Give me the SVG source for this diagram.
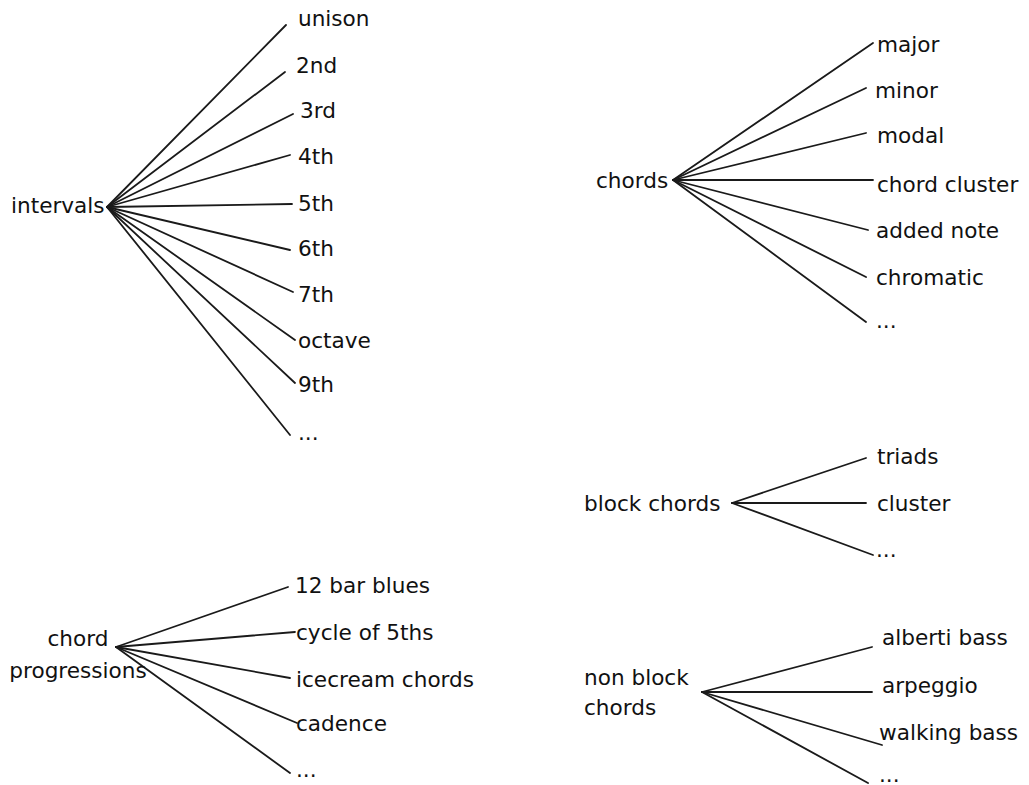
<svg xmlns="http://www.w3.org/2000/svg" width="1029" height="785" viewBox="0 0 1029 785">
<style>
text{font-family:"DejaVu Sans",Verdana,sans-serif;font-size:21.6px;fill:#111}
.c line{stroke:#1a1a1a;stroke-width:1.8;stroke-linecap:round}
.m{text-anchor:middle}
</style>
<rect width="1029" height="785" fill="#fff"/>
<g class="c" id="connectors">
<line x1="107" y1="207" x2="286" y2="25"/>
<line x1="107" y1="207" x2="285" y2="72"/>
<line x1="107" y1="207" x2="293" y2="114"/>
<line x1="107" y1="207" x2="290" y2="155"/>
<line x1="107" y1="207" x2="292" y2="204"/>
<line x1="107" y1="207" x2="290" y2="250"/>
<line x1="107" y1="207" x2="293" y2="292"/>
<line x1="107" y1="207" x2="295" y2="340"/>
<line x1="107" y1="207" x2="295" y2="383"/>
<line x1="107" y1="207" x2="290" y2="435"/>
<line x1="673" y1="180" x2="873" y2="43"/>
<line x1="673" y1="180" x2="866" y2="88"/>
<line x1="673" y1="180" x2="866" y2="133"/>
<line x1="673" y1="180" x2="873" y2="180"/>
<line x1="673" y1="180" x2="868" y2="230"/>
<line x1="673" y1="180" x2="866" y2="277"/>
<line x1="673" y1="180" x2="866" y2="322"/>
<line x1="732" y1="503" x2="866" y2="458"/>
<line x1="732" y1="503" x2="866" y2="503"/>
<line x1="732" y1="503" x2="873" y2="555"/>
<line x1="116" y1="647" x2="288" y2="587"/>
<line x1="116" y1="647" x2="295" y2="632"/>
<line x1="116" y1="647" x2="290" y2="678"/>
<line x1="116" y1="647" x2="297" y2="723"/>
<line x1="116" y1="647" x2="290" y2="773"/>
<line x1="702" y1="692" x2="872" y2="647"/>
<line x1="702" y1="692" x2="872" y2="692"/>
<line x1="702" y1="692" x2="882" y2="745"/>
<line x1="702" y1="692" x2="868" y2="783"/>
</g>
<g id="intervals"><text x="11" y="213">intervals</text></g>
<g id="unison"><text x="298" y="26">unison</text></g>
<g id="i2nd"><text x="296" y="73">2nd</text></g>
<g id="i3rd"><text x="300" y="118">3rd</text></g>
<g id="i4th"><text x="298" y="164">4th</text></g>
<g id="i5th"><text x="298" y="211">5th</text></g>
<g id="i6th"><text x="298" y="256">6th</text></g>
<g id="i7th"><text x="298" y="302">7th</text></g>
<g id="octave"><text x="298" y="348">octave</text></g>
<g id="i9th"><text x="298" y="392">9th</text></g>
<g id="imore"><text x="298" y="440">...</text></g>
<g id="chords"><text x="596" y="188">chords</text></g>
<g id="major"><text x="877" y="52">major</text></g>
<g id="minor"><text x="875" y="98">minor</text></g>
<g id="modal"><text x="877" y="143">modal</text></g>
<g id="chordcluster"><text x="877" y="192">chord cluster</text></g>
<g id="addednote"><text x="876" y="238">added note</text></g>
<g id="chromatic"><text x="876" y="285">chromatic</text></g>
<g id="cmore"><text x="876" y="328">...</text></g>
<g id="blockchords"><text x="584" y="511">block chords</text></g>
<g id="triads"><text x="877" y="464">triads</text></g>
<g id="cluster"><text x="877" y="511">cluster</text></g>
<g id="bmore"><text x="876" y="557">...</text></g>
<g id="chordprogressions"><text class="m" x="78" y="646">chord</text><text class="m" x="78" y="678">progressions</text></g>
<g id="blues"><text x="295" y="593">12 bar blues</text></g>
<g id="cycle"><text x="296" y="640">cycle of 5ths</text></g>
<g id="icecream"><text x="296" y="687">icecream chords</text></g>
<g id="cadence"><text x="296" y="731">cadence</text></g>
<g id="pmore"><text x="296" y="777">...</text></g>
<g id="nonblockchords"><text x="584" y="685">non block</text><text x="584" y="715">chords</text></g>
<g id="alberti"><text x="882" y="645">alberti bass</text></g>
<g id="arpeggio"><text x="882" y="693">arpeggio</text></g>
<g id="walking"><text x="879" y="740">walking bass</text></g>
<g id="nmore"><text x="879" y="782">...</text></g>
</svg>
